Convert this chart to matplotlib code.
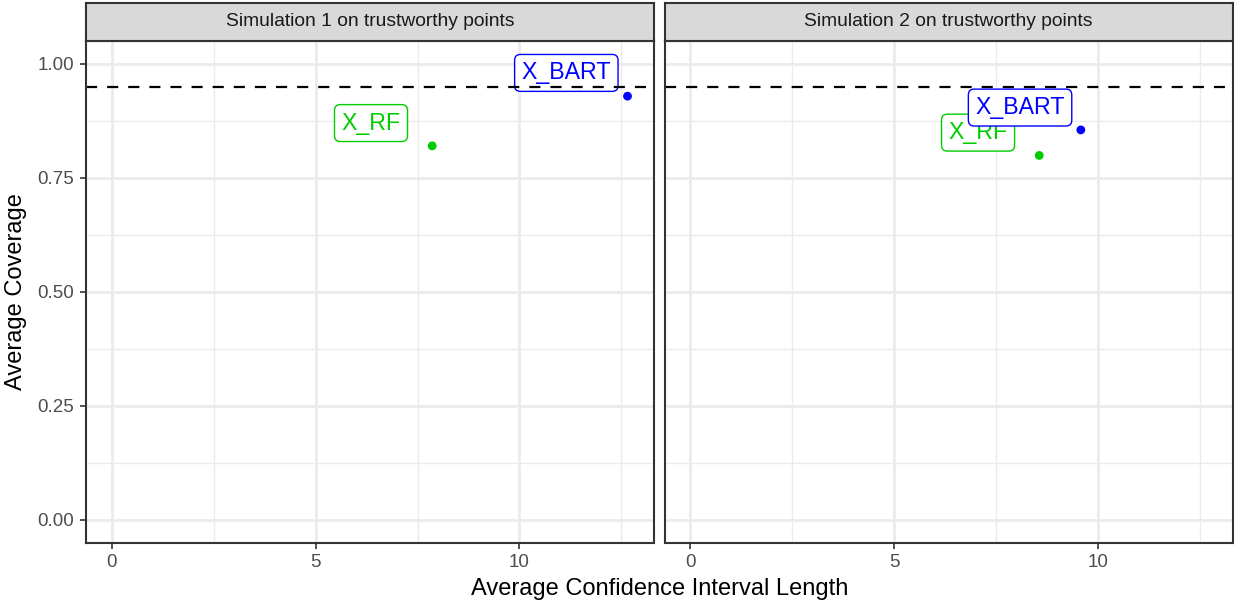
import matplotlib
matplotlib.use("Agg")
import matplotlib.pyplot as plt

plt.rcParams['font.family'] = ['Liberation Sans', 'DejaVu Sans']

# Data
panels = ["Simulation 1 on trustworthy points", "Simulation 2 on trustworthy points"]
methods = ["X_RF", "X_BART"]
colors = {"X_RF": "#00CD00", "X_BART": "#0000FF"}
ci_length = {
    panels[0]: [7.86, 12.65],
    panels[1]: [8.56, 9.58],
}
coverage = {
    panels[0]: [0.820, 0.929],
    panels[1]: [0.799, 0.855],
}
# label anchor positions (repelled from points)
label_x = {
    panels[0]: [6.36, 11.15],
    panels[1]: [7.06, 8.09],
}
label_y = {
    panels[0]: [0.870, 0.980],
    panels[1]: [0.849, 0.904],
}
nominal = 0.95
x_ticks = [0, 5, 10]
y_ticks = [0.00, 0.25, 0.50, 0.75, 1.00]
xlim = (-0.63, 13.30)
ylim = (-0.05, 1.05)

W, H = 1234, 604
fig = plt.figure(figsize=(W / 100, H / 100), dpi=100)

panel_px = [(86, 654), (664.5, 1232.5)]
top_px, bottom_px, strip_top_px = 41, 542.5, 2.5

grid_col = "#EBEBEB"
frame_col = "#333333"

for i, name in enumerate(panels):
    x0, x1 = panel_px[i]
    ax = fig.add_axes([x0 / W, 1 - bottom_px / H, (x1 - x0) / W, (bottom_px - top_px) / H])
    ax.set_xlim(*xlim)
    ax.set_ylim(*ylim)
    ax.set_facecolor("white")

    # grid
    for v in [2.5, 7.5, 12.5]:
        ax.axvline(v, color=grid_col, lw=1.0, zorder=0)
    for v in [0.125, 0.375, 0.625, 0.875]:
        ax.axhline(v, color=grid_col, lw=1.0, zorder=0)
    for v in x_ticks:
        ax.axvline(v, color=grid_col, lw=2.0, zorder=0)
    for v in y_ticks:
        ax.axhline(v, color=grid_col, lw=2.0, zorder=0)

    for j, m in enumerate(methods):
        ax.scatter(ci_length[name][j], coverage[name][j], s=40, color=colors[m],
                   edgecolors="none", zorder=3)
    for j, m in enumerate(methods):
        ax.text(label_x[name][j], label_y[name][j], m, color=colors[m], fontsize=16.7,
                ha="center", va="center", zorder=4,
                bbox=dict(boxstyle="round,pad=0.3,rounding_size=0.25", fc="white",
                          ec=colors[m], lw=1.0))

    # nominal coverage reference line, drawn over the labels
    ax.axhline(nominal, color="black", lw=1.6, ls=(0, (5, 4.5)), zorder=6)

    ax.set_xticks(x_ticks)
    ax.set_xticklabels([str(t) for t in x_ticks])
    ax.set_yticks(y_ticks)
    if i == 0:
        ax.set_yticklabels([f"{t:.2f}" for t in y_ticks])
    else:
        ax.set_yticklabels([])
    ax.tick_params(axis="both", colors=frame_col, width=1.2, length=4.5,
                   labelsize=13.5, labelcolor="#4D4D4D", pad=4)
    if i == 1:
        ax.tick_params(axis="y", length=0)
    for s in ax.spines.values():
        s.set_color(frame_col)
        s.set_linewidth(1.5)
        s.set_zorder(7)

    # facet strip
    sax = fig.add_axes([x0 / W, 1 - top_px / H, (x1 - x0) / W, (top_px - strip_top_px) / H])
    sax.set_facecolor("#D9D9D9")
    sax.set_xticks([])
    sax.set_yticks([])
    for s in sax.spines.values():
        s.set_color(frame_col)
        s.set_linewidth(1.5)
    sax.text(0.5, 0.5, name, ha="center", va="center", fontsize=13.9, color="#1A1A1A",
             transform=sax.transAxes)

fig.text((86 + 1232.5) / 2 / W, 1 - 589 / H, "Average Confidence Interval Length",
         ha="center", va="center", fontsize=17, color="black")
fig.text(16 / W, 1 - 292 / H, "Average Coverage", ha="center", va="center",
         rotation=90, fontsize=17, color="black")

fig.savefig("out.png", dpi=100)
